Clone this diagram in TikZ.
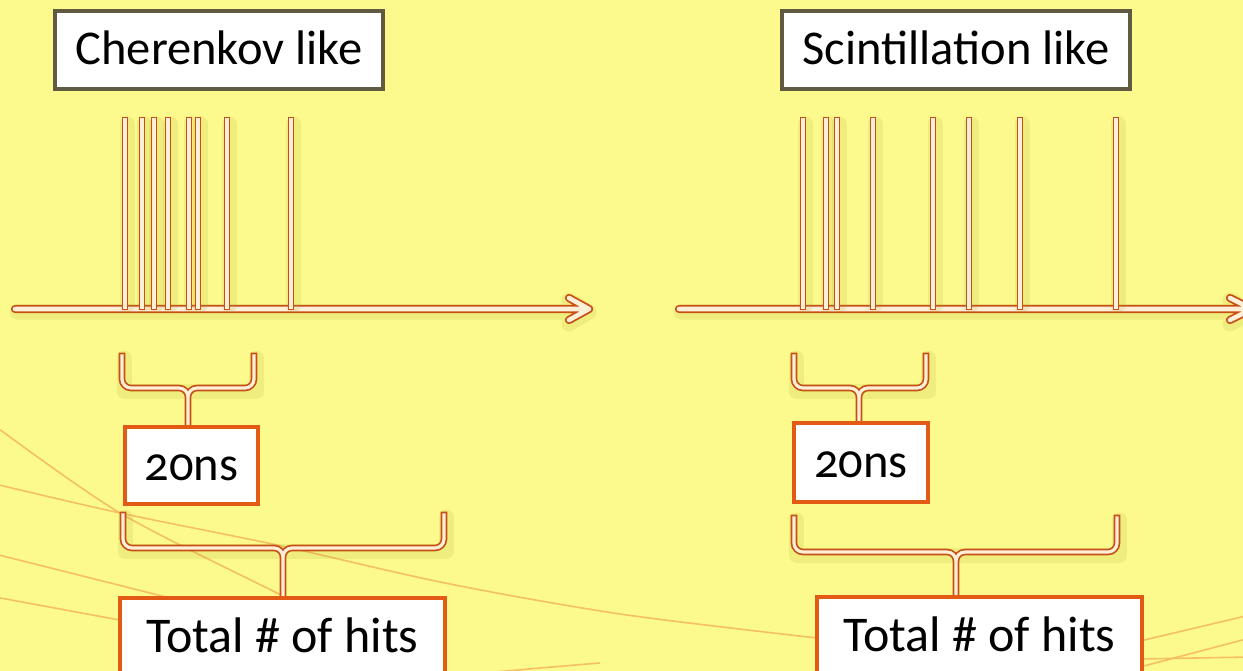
\documentclass[tikz,border=0pt]{standalone}
\usepackage{fontspec}
\setmainfont{Carlito}[Numbers=OldStyle]
\definecolor{bg}{RGB}{252,250,140}
\definecolor{lineor}{RGB}{198,80,22}
\definecolor{innercr}{RGB}{255,238,216}
\definecolor{boxor}{RGB}{226,90,20}
\definecolor{titlegr}{RGB}{95,90,65}
\definecolor{curvec}{RGB}{245,185,95}
\definecolor{shadowc}{RGB}{165,160,40}
\pgfdeclarelayer{fg}
\pgfsetlayers{main,fg}
\tikzset{
  dbl/.style={draw=lineor, line width=1.7pt, double=innercr, double distance=3.2pt, line cap=rect},
  axisline/.style={draw=lineor, line width=1.8pt, double=innercr, double distance=4.6pt, line cap=round, line join=round},
  bracepath/.style={dbl, rounded corners=9pt},
  softshade/.style={draw=shadowc, line width=15pt, opacity=0.14, line cap=round, line join=round},
  bgcurve/.style={draw=curvec, line width=1.6pt, opacity=0.9},
  labelfont/.style={font=\fontsize{48.5}{54}\selectfont},
  titlebox/.style={draw=titlegr, line width=3.5pt, fill=white, minimum height=78pt,
    inner sep=0pt, text height=34pt, text depth=4pt, labelfont},
  nsbox/.style={draw=boxor, line width=3.5pt, fill=white, minimum height=77pt,
    inner sep=0pt, text height=34pt, text depth=4pt, labelfont},
  hitbox/.style={draw=boxor, line width=3.5pt, fill=white, minimum height=100pt,
    inner sep=0pt, text height=34pt, text depth=26pt, font=\fontsize{50}{55}\selectfont},
}
\newcommand\spikeat[1]{%
  \draw[softshade] (#1+2,124) -- (#1+2,305);
  \draw[dbl] (#1,120) -- (#1,307);}
\begin{document}
\begin{tikzpicture}[x=1pt,y=-1pt]
\useasboundingbox (0,0) rectangle (1243,671);
\clip (0,0) rectangle (1243,671);
\fill[bg] (0,0) rectangle (1243,671);

% background decoration curves
\draw[bgcurve] plot[smooth] coordinates {(-5,426) (120,513) (277,593) (330,620)};
\draw[bgcurve] plot[smooth] coordinates {(-5,484) (120,513) (277,545) (445,583) (620,614) (817,638)};
\draw[bgcurve] plot[smooth] coordinates {(-5,554) (150,593) (200,606)};
\draw[bgcurve] plot[smooth] coordinates {(-5,597) (125,621)};
\draw[bgcurve] plot[smooth] coordinates {(440,677) (540,668) (600,663)};
\draw[bgcurve] (1140,641) -- (1250,615);
\draw[bgcurve] (1140,659) -- (1250,657);
\draw[bgcurve] (1140,667) -- (1250,638);

% boxes (foreground layer)
\begin{pgfonlayer}{fg}
\node[titlebox, minimum width=328pt] (tL) at (219,50) {Cherenkov like};
\node[titlebox, minimum width=348pt] (tR) at (956,50) {Scintillation like};
\node[nsbox, minimum width=133pt] (nsL) at (191.5,465.5) {20ns};
\node[nsbox, minimum width=134pt, minimum height=79pt] (nsR) at (861,462.5) {20ns};
\node[hitbox, minimum width=325pt] (hL) at (282.5,648) {Total \# of hits};
\node[hitbox, minimum width=325pt] (hR) at (979.5,647) {Total \# of hits};
\end{pgfonlayer}

% axes
\draw[softshade] (17,312) -- (589,312) (569,300) -- (589,312) -- (569,324);
\draw[softshade] (681,312) -- (1252,312) (1230,300) -- (1252,312) -- (1230,324);
\draw[axisline] (15,309) -- (589,309) (569,298) -- (589,309) -- (569,320);
\draw[axisline] (679,309) -- (1252,309) (1230,298) -- (1252,309) -- (1230,320);

% spikes
\foreach \x in {125,142,154,168,189,198,227,291} {\spikeat{\x}}
\foreach \x in {803,826,837,873,933,969,1020,1116} {\spikeat{\x}}

% braces
\draw[softshade] (124,358) -- (124,391) -- (256,391) -- (256,358);
\draw[bracepath] (122,356) -- (122,388) -- (188,388) -- (188,0 |- nsL.north)
                 (254,356) -- (254,388) -- (188,388) -- (188,0 |- nsL.north);
\draw[softshade] (125,517) -- (125,551) -- (446,551) -- (446,517);
\draw[bracepath] (123,515) -- (123,548) -- (283,548) -- (283,0 |- hL.north)
                 (444,515) -- (444,548) -- (283,548) -- (283,0 |- hL.north);
\draw[softshade] (796,358) -- (796,391) -- (928,391) -- (928,358);
\draw[bracepath] (794,356) -- (794,388) -- (859,388) -- (859,0 |- nsR.north)
                 (926,356) -- (926,388) -- (859,388) -- (859,0 |- nsR.north);
\draw[softshade] (796,520) -- (796,555) -- (1119,555) -- (1119,520);
\draw[bracepath] (794,518) -- (794,552) -- (956,552) -- (956,0 |- hR.north)
                 (1117,518) -- (1117,552) -- (956,552) -- (956,0 |- hR.north);
\end{tikzpicture}
\end{document}
